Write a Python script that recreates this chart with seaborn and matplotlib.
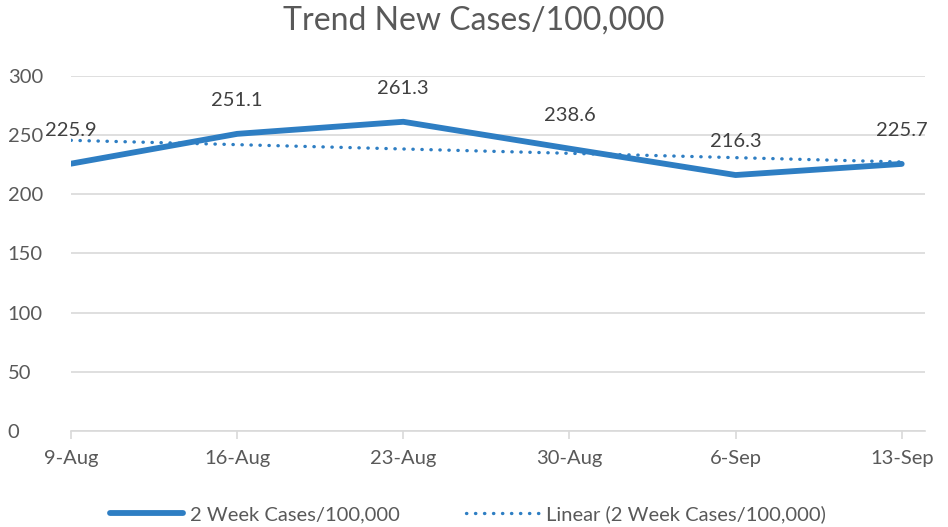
import matplotlib
matplotlib.use("Agg")
import matplotlib.pyplot as plt
import seaborn as sns
import numpy as np
import pandas as pd

weeks = ["9-Aug", "16-Aug", "23-Aug", "30-Aug", "6-Sep", "13-Sep"]
cases = [225.9, 251.1, 261.3, 238.6, 216.3, 225.7]
yticks = [0, 50, 100, 150, 200, 250, 300]

blue = "#2E7EC3"
grey = "#595959"

sns.set_style("white")
plt.rcParams["font.family"] = ["Lato", "DejaVu Sans"]

df = pd.DataFrame({"pos": np.arange(len(weeks)), "week": weeks, "cases": cases})

fig = plt.figure(figsize=(9.48, 5.27), dpi=100)
ax = fig.add_axes([0.0749, 0.1822, 0.9008, 0.6736])

sns.lineplot(data=df, x="pos", y="cases", ax=ax, color=blue, lw=4.2,
             solid_capstyle="round", label="2 Week Cases/100,000")
# linear trendline like excel
sns.regplot(data=df, x="pos", y="cases", ax=ax, scatter=False, ci=None,
            line_kws=dict(color=blue, lw=2.4, ls=(0, (0.1, 2.6)),
                          dash_capstyle="round"),
            label="Linear (2 Week Cases/100,000)")

for i, v in enumerate(cases):
    ax.annotate(f"{v}", (i, v), xytext=(0, 24), textcoords="offset points",
                ha="center", va="center", fontsize=14.5, color="#404040")

ax.set_ylim(0, 300)
ax.set_xlim(0, 5.14)
ax.set_yticks(yticks)
ax.set_xticks(df["pos"])
ax.set_xticklabels(weeks)
ax.yaxis.grid(True, color="#D9D9D9", lw=1.2)
ax.set_axisbelow(True)
for s in ["top", "right", "left"]:
    ax.spines[s].set_visible(False)
ax.spines["bottom"].set_color("#D9D9D9")
ax.spines["bottom"].set_linewidth(1.2)
ax.tick_params(axis="x", bottom=True, length=6, color="#D9D9D9", width=1.2,
               labelsize=14.5, labelcolor=grey, pad=8)
ax.tick_params(axis="y", left=False, labelsize=14.5, labelcolor=grey, pad=42)
for lab in ax.get_yticklabels():
    lab.set_horizontalalignment("left")
ax.set_xlabel("")
ax.set_ylabel("")

fig.suptitle("Trend New Cases/100,000", y=0.99, fontsize=23, color=grey)

ax.legend(loc="center", bbox_to_anchor=(0.465, -0.235), ncol=2, frameon=False,
          fontsize=14.5, labelcolor=grey, handlelength=3.6, handletextpad=0.35,
          columnspacing=3.3)

fig.savefig("out.png", dpi=100)
